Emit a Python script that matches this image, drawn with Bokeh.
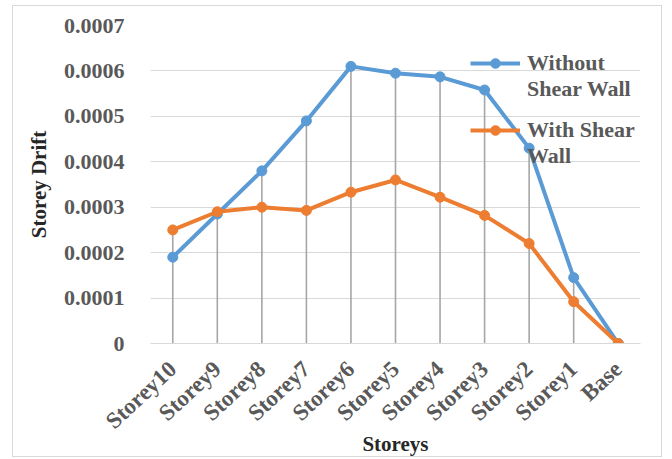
from bokeh.plotting import figure
from bokeh.models import FixedTicker, CustomJSTickFormatter, Legend, LegendItem
from bokeh.embed import file_html
from bokeh.resources import INLINE

storeys = ["Storey10", "Storey9", "Storey8", "Storey7", "Storey6", "Storey5",
           "Storey4", "Storey3", "Storey2", "Storey1", "Base"]
without_sw = [0.00019, 0.000285, 0.00038, 0.00049, 0.00061, 0.000595,
              0.000587, 0.000558, 0.00043, 0.000145, 0.0]
with_sw = [0.00025, 0.00029, 0.0003, 0.000293, 0.000333, 0.00036,
           0.000322, 0.000282, 0.00022, 0.000092, 0.0]
y_ticks = [0.0, 0.0001, 0.0002, 0.0003, 0.0004, 0.0005, 0.0006, 0.0007]

FONT = "Liberation Serif"
BLUE = "#5b9bd5"
ORANGE = "#ed7d31"

p = figure(x_range=storeys, y_range=(0, 0.0007), width=650, height=452,
           output_backend="svg", toolbar_location=None,
           min_border_left=137, min_border_right=23, min_border_top=19,
           min_border_bottom=113)
p.outline_line_color = None

drop_top = [max(a, b) for a, b in zip(without_sw, with_sw)]
p.segment(x0=storeys, y0=[0.0] * len(storeys), x1=storeys, y1=drop_top,
          line_color="#a6a6a6", line_width=1.6)

r1l = p.line(storeys, without_sw, line_color=BLUE, line_width=4)
r1c = p.scatter(storeys, without_sw, size=10, fill_color=BLUE, line_color=BLUE)
r2l = p.line(storeys, with_sw, line_color=ORANGE, line_width=4)
r2c = p.scatter(storeys, with_sw, size=10, fill_color=ORANGE, line_color=ORANGE)
blank = p.line(x=[], y=[], line_alpha=0)

p.yaxis.ticker = FixedTicker(ticks=y_ticks)
p.yaxis.formatter = CustomJSTickFormatter(code="return tick == 0 ? '0' : tick.toFixed(4);")
p.xgrid.grid_line_color = None
p.ygrid.grid_line_color = "#d9d9d9"
p.ygrid.grid_line_width = 1

for ax in (p.xaxis, p.yaxis):
    ax.major_tick_line_color = None
    ax.minor_tick_line_color = None
    ax.major_label_text_font = FONT
    ax.major_label_text_font_style = "bold"
    ax.major_label_text_font_size = "22px"
    ax.major_label_text_color = "#595959"
    ax.axis_label_text_font = FONT
    ax.axis_label_text_font_style = "bold"
    ax.axis_label_text_font_size = "21px"
    ax.axis_label_text_color = "#262626"

p.xaxis.major_label_text_font_size = "23px"
p.yaxis.axis_line_color = None
p.xaxis.axis_line_color = "#d9d9d9"
p.yaxis.major_label_standoff = 20
p.xaxis.major_label_orientation = 0.75
p.xaxis.major_label_standoff = 16
p.yaxis.axis_label = "Storey Drift"
p.xaxis.axis_label = "Storeys"
p.yaxis.axis_label_standoff = 10
p.xaxis.axis_label_standoff = -14


def make_legend(items, loc):
    lg = Legend(items=items, location=loc)
    lg.background_fill_alpha = 0
    lg.border_line_color = None
    lg.padding = 0
    lg.margin = 0
    lg.spacing = 0
    lg.glyph_width = 50
    lg.glyph_height = 24
    lg.label_height = 24
    lg.label_standoff = 7
    lg.label_text_font = FONT
    lg.label_text_font_style = "bold"
    lg.label_text_font_size = "22px"
    lg.label_text_color = "#595959"
    return lg


leg1 = make_legend([LegendItem(label="Without", renderers=[r1l, r1c]),
                    LegendItem(label="Shear Wall", renderers=[blank])], (320, 241))
leg2 = make_legend([LegendItem(label="With Shear", renderers=[r2l, r2c]),
                    LegendItem(label="Wall", renderers=[blank])], (320, 174))
p.add_layout(leg1, "center")
p.add_layout(leg2, "center")

p.styles = {"border": "1px solid #d9d9d9", "margin": "5px 0 0 12px"}

open("out.html", "w").write(file_html(p, INLINE))
